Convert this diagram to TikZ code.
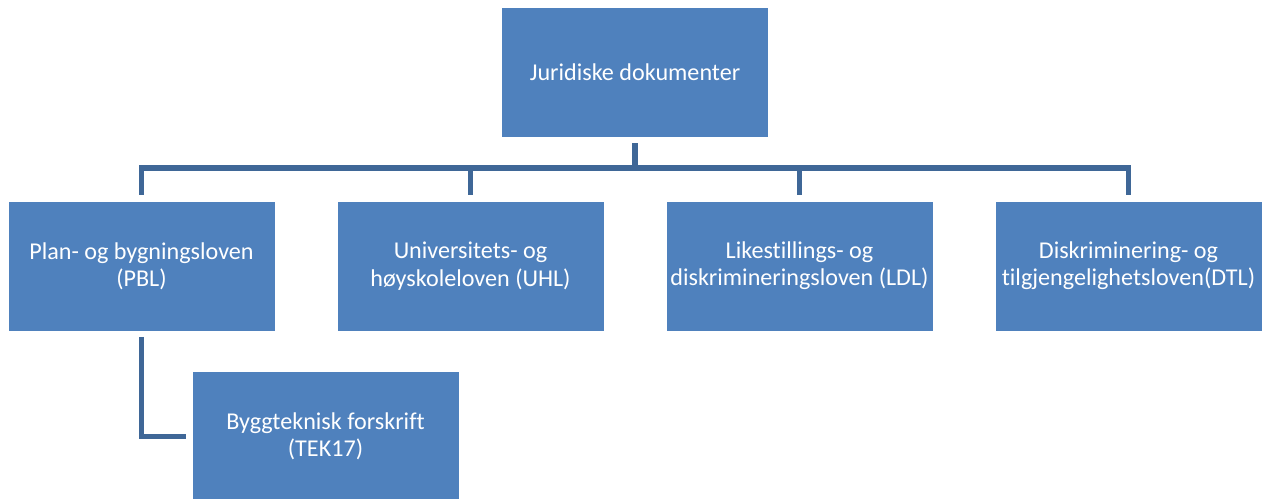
\documentclass[tikz,border=0pt]{standalone}
\usepackage{fontspec}
\setmainfont[Ligatures={NoCommon}]{Carlito}
\usepackage{tikz}
\usetikzlibrary{positioning}
\definecolor{boxblue}{RGB}{79,129,189}
\definecolor{lineblue}{RGB}{63,103,151}
\newcommand\unitsize{0.75pt}
\tikzset{lawbox/.style={rectangle, fill=boxblue, text=white, inner sep=0pt, minimum width=266*\unitsize, minimum height=129*\unitsize, align=center, font=\fontsize{18.1}{20.5}\selectfont}}
\tikzset{connector/.style={draw=lineblue, line width=4.2pt, shorten <=4.5pt, shorten >=4.5pt}}

\begin{document}
\begin{tikzpicture}[x=\unitsize, y=-\unitsize]
\useasboundingbox (0,0) rectangle (1262,499);
\node[lawbox] (top) at (635,72.5) {Juridiske dokumenter};
\foreach \txt [count=\i from 0] in {{Plan- og bygningsloven\\(PBL)},{Universitets- og\\høyskoleloven (UHL)},{Likestillings- og\\diskrimineringsloven (LDL)},{Diskriminering- og\\tilgjengelighetsloven(DTL)}} {
	\node[lawbox] (law\i) at (141.5+\i*329,266) {\txt};
	\draw[connector] (top.south) -- ++(0,31) -| (law\i.north);
}
\node[lawbox] (tek) at (325.5,436.5) {Byggteknisk forskrift\\(TEK17)};
\draw[connector] (law0.south) |- (tek.west);
\end{tikzpicture}
\end{document}
